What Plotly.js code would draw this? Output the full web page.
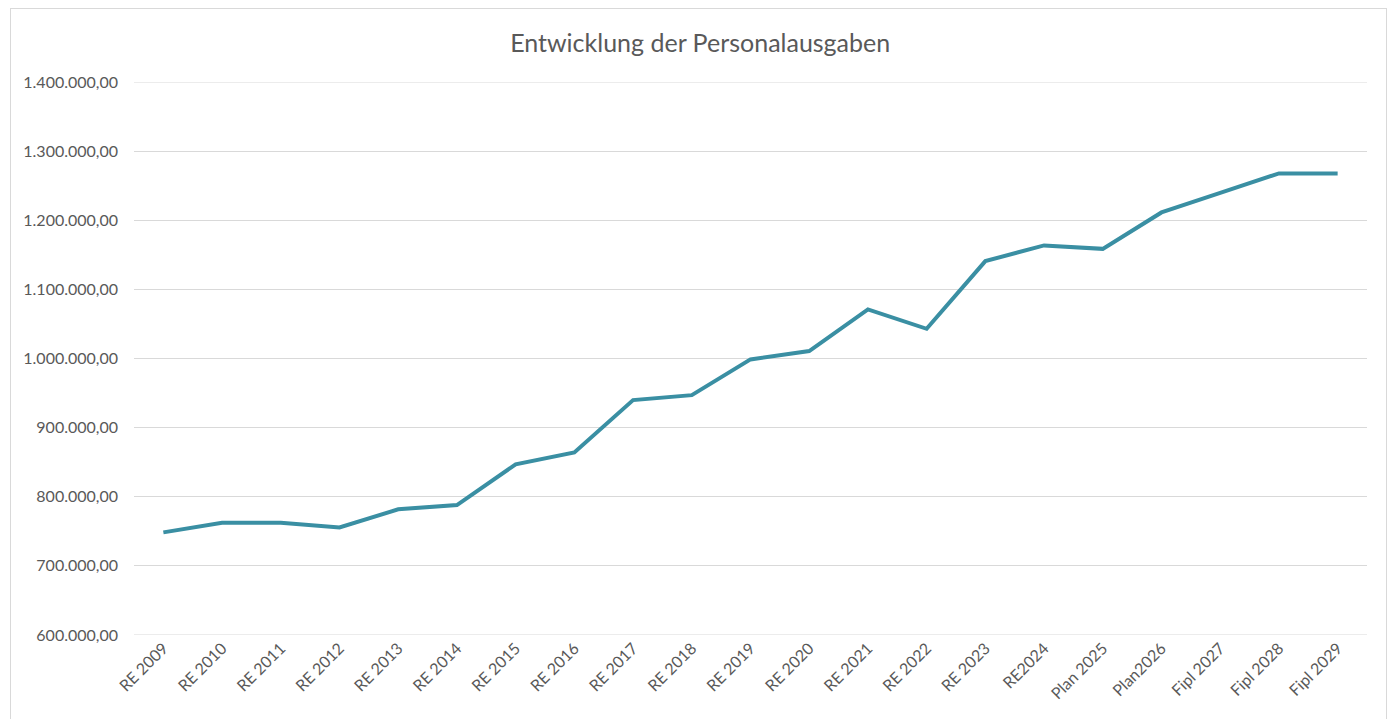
<!DOCTYPE html>
<html>
<head>
<meta charset="utf-8">
<script src="https://cdn.plot.ly/plotly-3.0.1.min.js"></script>
<style>
  html, body { margin: 0; padding: 0; background: #ffffff; overflow: hidden; }
  #wrap { position: relative; width: 1392px; height: 719px; }
  #chart { position: absolute; left: 0; top: 0; width: 1392px; height: 719px; }
  #frame { position: absolute; left: 10px; top: 8px; width: 1375px; height: 740px;
           border: 1px solid #d9d9d9; pointer-events: none; }
</style>
</head>
<body>
<div id="wrap">
  <div id="chart"></div>
  <div id="frame"></div>
</div>
<script>
const categories = [
  "RE 2009", "RE 2010", "RE 2011", "RE 2012", "RE 2013", "RE 2014", "RE 2015",
  "RE 2016", "RE 2017", "RE 2018", "RE 2019", "RE 2020", "RE 2021", "RE 2022",
  "RE 2023", "RE2024", "Plan 2025", "Plan2026", "Fipl 2027", "Fipl 2028", "Fipl 2029"
];
const personalausgaben = [
  748500, 762400, 762400, 755700, 781800, 788000, 846900,
  864200, 939800, 947000, 998700, 1010700, 1071000, 1043000,
  1140900, 1163600, 1158600, 1211300, 1239500, 1267800, 1267800
];
const chartTitle = "Entwicklung der Personalausgaben";
const yTicks = [600000, 700000, 800000, 900000, 1000000, 1100000, 1200000, 1300000, 1400000];

const fontFamily = "Lato, 'Open Sans', sans-serif";
const gridColor = "#d9d9d9";

// gridlines at the range ends (Plotly skips those at the plot edges)
const edgeGrid = [yTicks[0], yTicks[yTicks.length - 1]].map(v => ({
  type: "line", xref: "paper", yref: "y", x0: 0, x1: 1, y0: v, y1: v,
  line: { color: gridColor, width: 1 }, layer: "below"
}));

Plotly.newPlot("chart", [{
  type: "scatter",
  mode: "lines",
  x: categories,
  y: personalausgaben,
  line: { color: "#3a8fa3", width: 4 },
  hoverinfo: "x+y",
  cliponaxis: false
}], {
  width: 1392,
  height: 719,
  paper_bgcolor: "#ffffff",
  plot_bgcolor: "#ffffff",
  separators: ",.",
  showlegend: false,
  margin: { l: 134, r: 25, t: 82, b: 84 },
  shapes: edgeGrid,
  title: {
    text: chartTitle,
    font: { family: fontFamily, size: 25, color: "#595959" },
    xref: "container", x: 0.503, xanchor: "center",
    yref: "container", y: 1 - 43 / 719, yanchor: "middle"
  },
  xaxis: {
    type: "category",
    range: [-0.5, categories.length - 0.5],
    tickangle: -45,
    showgrid: false,
    showline: false,
    zeroline: false,
    ticks: "",
    tickfont: { family: fontFamily, size: 16, color: "#595959" }
  },
  yaxis: {
    range: [yTicks[0], yTicks[yTicks.length - 1]],
    tickvals: yTicks,
    tickformat: ",.2f",
    showgrid: true,
    gridcolor: gridColor,
    gridwidth: 1,
    zeroline: false,
    showline: false,
    ticks: "",
    ticklabelstandoff: 15,
    tickfont: { family: fontFamily, size: 16, color: "#595959" }
  }
}, { displayModeBar: false, staticPlot: true });
</script>
</body>
</html>
